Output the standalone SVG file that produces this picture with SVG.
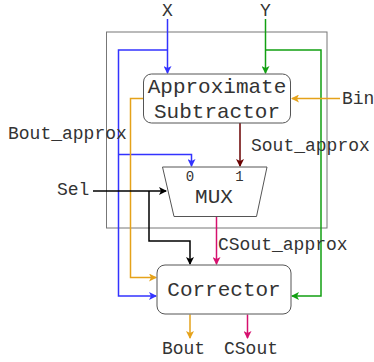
<svg xmlns="http://www.w3.org/2000/svg" width="374" height="362" viewBox="0 0 374 362">
<defs>
<style>
text{font-family:"Courier New","Liberation Mono",monospace;fill:#333}
.big{font-size:21px}
.mid{font-size:18px}
.sm{font-size:14px}
.box{fill:#fff;stroke:#555;stroke-width:1}
.w{fill:none;stroke-width:1.5}
.b{stroke:#3333ff}.g{stroke:#12a012}.o{stroke:#e5a21a}.r{stroke:#6a0000}.k{stroke:#000}.m{stroke:#d6106e}
</style>
<marker id="ab" viewBox="0 0 8 8" refX="7" refY="4" markerWidth="8" markerHeight="8" markerUnits="userSpaceOnUse" orient="auto"><path d="M0,0L8,4L0,8L2,4Z" fill="#3333ff"/></marker>
<marker id="ag" viewBox="0 0 8 8" refX="7" refY="4" markerWidth="8" markerHeight="8" markerUnits="userSpaceOnUse" orient="auto"><path d="M0,0L8,4L0,8L2,4Z" fill="#12a012"/></marker>
<marker id="ao" viewBox="0 0 8 8" refX="7" refY="4" markerWidth="8" markerHeight="8" markerUnits="userSpaceOnUse" orient="auto"><path d="M0,0L8,4L0,8L2,4Z" fill="#e5a21a"/></marker>
<marker id="ar" viewBox="0 0 8 8" refX="7" refY="4" markerWidth="8" markerHeight="8" markerUnits="userSpaceOnUse" orient="auto"><path d="M0,0L8,4L0,8L2,4Z" fill="#6a0000"/></marker>
<marker id="ak" viewBox="0 0 8 8" refX="7" refY="4" markerWidth="8" markerHeight="8" markerUnits="userSpaceOnUse" orient="auto"><path d="M0,0L8,4L0,8L2,4Z" fill="#000"/></marker>
<marker id="am" viewBox="0 0 8 8" refX="7" refY="4" markerWidth="8" markerHeight="8" markerUnits="userSpaceOnUse" orient="auto"><path d="M0,0L8,4L0,8L2,4Z" fill="#d6106e"/></marker>
</defs>
<rect width="374" height="362" fill="#fff"/>
<g id="frame"><rect x="106.5" y="32" width="220.5" height="196" fill="none" stroke="#777" stroke-width="1"/></g>
<g id="connectors">
<path class="w b" d="M167.5,19V73" marker-end="url(#ab)"/>
<path class="w b" d="M167.5,50H118.5V296H156" marker-end="url(#ab)"/>
<path class="w b" d="M118.5,154.5H191.5V166" marker-end="url(#ab)"/>
<path class="w g" d="M265.5,19V73" marker-end="url(#ag)"/>
<path class="w g" d="M265.5,50H321V296H292" marker-end="url(#ag)"/>
<path class="w o" d="M340,98.5H292" marker-end="url(#ao)"/>
<path class="w o" d="M143,98.5H130.5V277.5H156" marker-end="url(#ao)"/>
<path class="w r" d="M240,123V166" marker-end="url(#ar)"/>
<path class="w k" d="M93,191H166" marker-end="url(#ak)"/>
<path class="w k" d="M149,191V241H190V264" marker-end="url(#ak)"/>
<path class="w m" d="M216.5,217V264" marker-end="url(#am)"/>
<path class="w o" d="M190,314.5V338" marker-end="url(#ao)"/>
<path class="w m" d="M247.5,314.5V338" marker-end="url(#am)"/>
</g>
<g id="approx-subtractor">
<rect class="box" x="143.5" y="74" width="147" height="49" rx="8"/>
<text class="big" x="217" y="93" text-anchor="middle">Approximate</text>
<text class="big" x="217" y="118" text-anchor="middle">Subtractor</text>
</g>
<g id="mux">
<path d="M162.5,167H267L256.5,216.5H174Z" fill="#fff" stroke="#555" stroke-width="1"/>
<text class="sm" x="190" y="181" text-anchor="middle">0</text>
<text class="sm" x="239.5" y="181" text-anchor="middle">1</text>
<text class="big" x="214" y="203" text-anchor="middle">MUX</text>
</g>
<g id="corrector">
<rect class="box" x="157" y="265" width="134" height="49" rx="8"/>
<text class="big" x="224" y="296" text-anchor="middle">Corrector</text>
</g>
<g id="labels">
<text class="mid" x="167.5" y="16" text-anchor="middle">X</text>
<text class="mid" x="265.5" y="16" text-anchor="middle">Y</text>
<text class="mid" x="342" y="104">Bin</text>
<text class="mid" x="8" y="139">Bout_approx</text>
<text class="mid" x="251" y="151">Sout_approx</text>
<text class="mid" x="57" y="195">Sel</text>
<text class="mid" x="218" y="250">CSout_approx</text>
<text class="mid" x="183.5" y="354" text-anchor="middle">Bout</text>
<text class="mid" x="251" y="354" text-anchor="middle">CSout</text>
</g>
</svg>
